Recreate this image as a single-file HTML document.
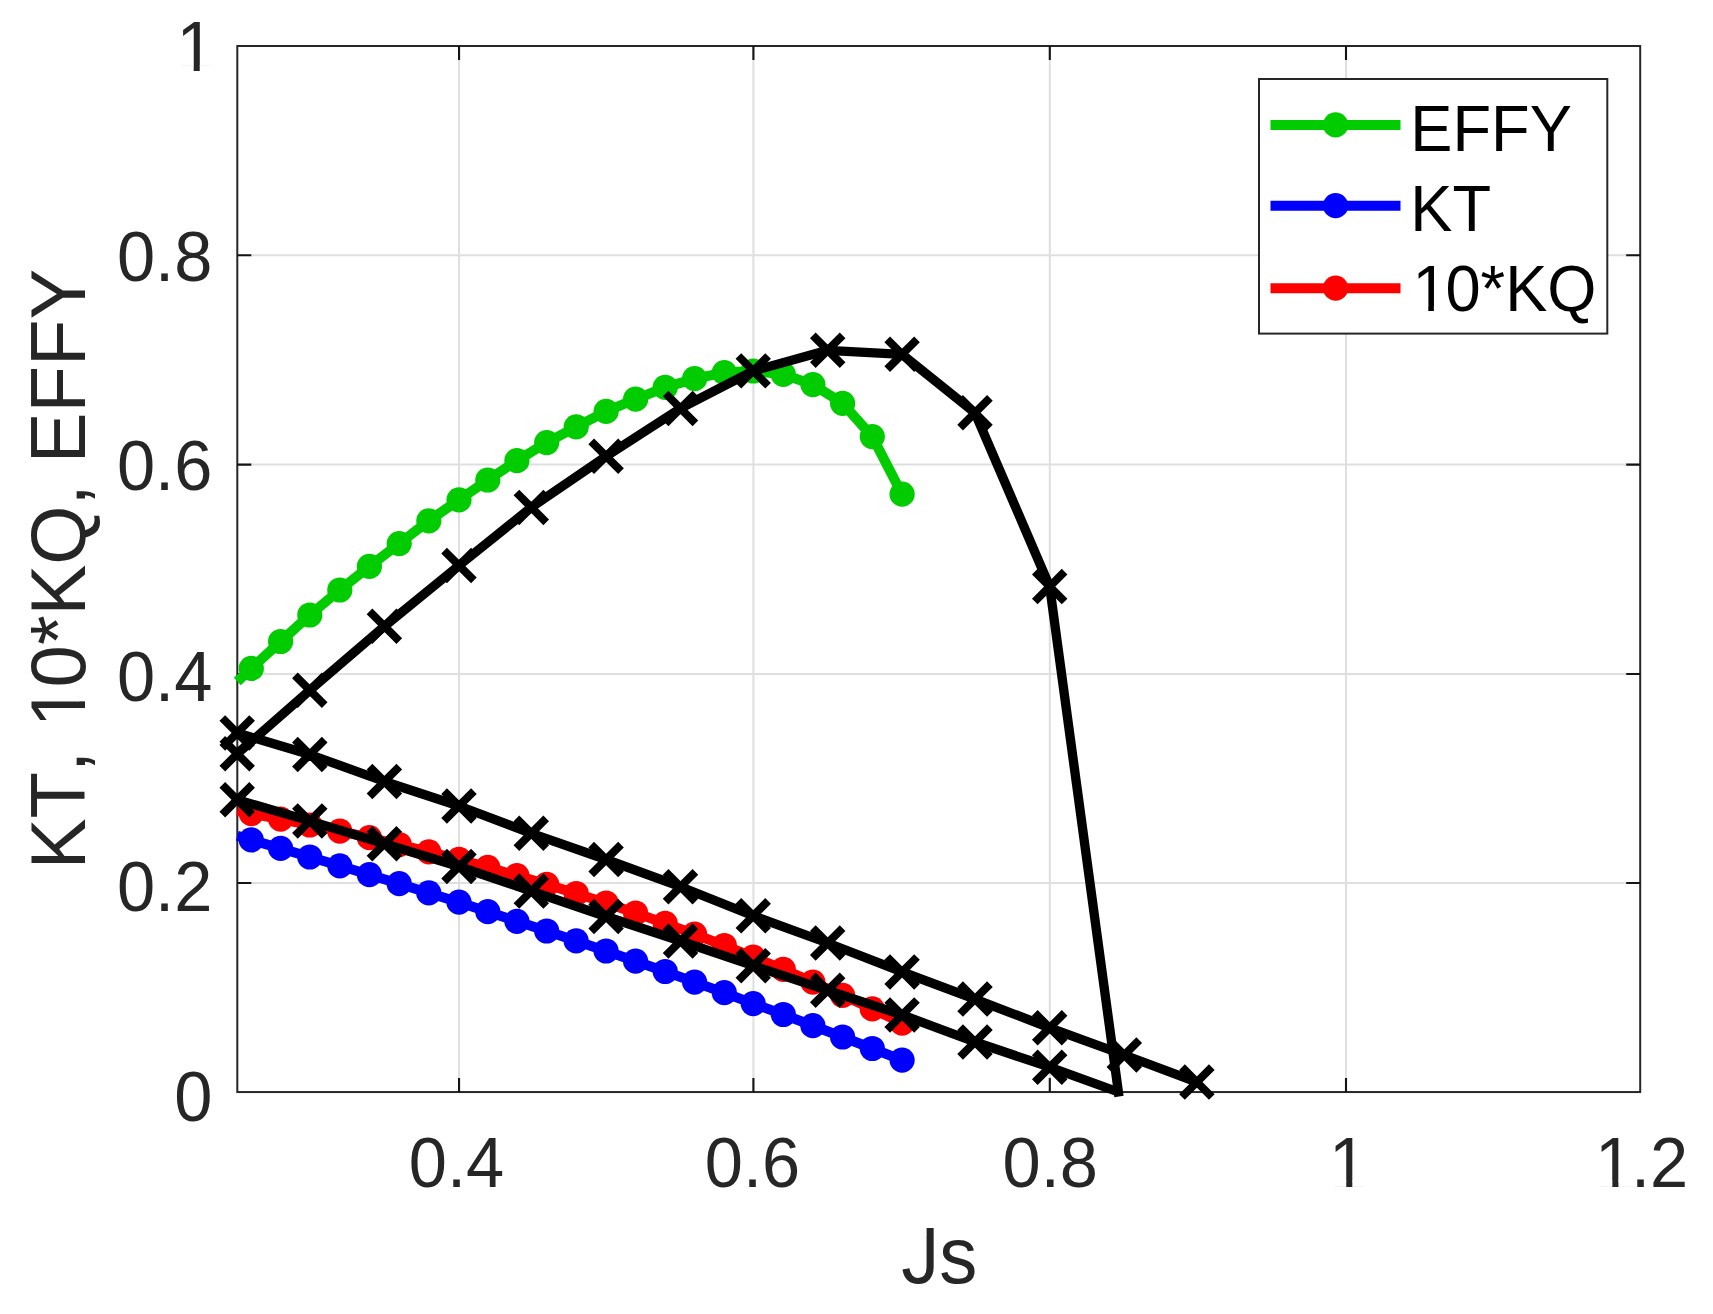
<!DOCTYPE html>
<html lang="en"><head><meta charset="utf-8"><title>KT, 10*KQ, EFFY vs Js</title>
<style>html,body{margin:0;padding:0;background:#fff;}svg{display:block;}text{font-family:"Liberation Sans",Arial,sans-serif;font-kerning:none;font-variant-ligatures:none;}</style></head><body>
<svg width="1713" height="1314" viewBox="0 0 1713 1314">
<rect x="0" y="0" width="1713" height="1314" fill="#ffffff"/>
<path d="M459.05 46.0V1092.05M753.40 46.0V1092.05M1049.80 46.0V1092.05M1346.00 46.0V1092.05M237.3 883.05H1640.2M237.3 673.95H1640.2M237.3 464.60H1640.2M237.3 255.25H1640.2" stroke="#dfdfdf" stroke-width="2" fill="none"/>
<rect x="237.3" y="46.0" width="1402.9" height="1046.05" fill="none" stroke="#262626" stroke-width="2"/>
<path d="M459.05 1092.05v-14M459.05 46.0v14M753.40 1092.05v-14M753.40 46.0v14M1049.80 1092.05v-14M1049.80 46.0v14M1346.00 1092.05v-14M1346.00 46.0v14M237.3 883.05h14M1640.2 883.05h-14M237.3 673.95h14M1640.2 673.95h-14M237.3 464.60h14M1640.2 464.60h-14M237.3 255.25h14M1640.2 255.25h-14" stroke="#141414" stroke-width="2.1" fill="none"/>
<polyline points="237.3,681.5 251.3,668.4 280.6,641.5 309.8,615.0 339.8,590.0 369.4,566.4 399.2,543.6 428.8,520.8 459.0,499.8 487.8,480.0 516.9,460.7 546.7,442.6 576.2,426.8 606.1,411.4 635.6,399.2 665.2,387.4 694.6,378.7 724.3,372.6 753.2,371.0 783.3,374.4 812.9,384.6 842.6,403.3 872.3,436.6 902.1,494.2" fill="none" stroke="#00cc00" stroke-width="10.0" stroke-linejoin="round"/>
<g fill="#00cc00"><circle cx="251.3" cy="668.4" r="12.6"/><circle cx="280.6" cy="641.5" r="12.6"/><circle cx="309.8" cy="615.0" r="12.6"/><circle cx="339.8" cy="590.0" r="12.6"/><circle cx="369.4" cy="566.4" r="12.6"/><circle cx="399.2" cy="543.6" r="12.6"/><circle cx="428.8" cy="520.8" r="12.6"/><circle cx="459.0" cy="499.8" r="12.6"/><circle cx="487.8" cy="480.0" r="12.6"/><circle cx="516.9" cy="460.7" r="12.6"/><circle cx="546.7" cy="442.6" r="12.6"/><circle cx="576.2" cy="426.8" r="12.6"/><circle cx="606.1" cy="411.4" r="12.6"/><circle cx="635.6" cy="399.2" r="12.6"/><circle cx="665.2" cy="387.4" r="12.6"/><circle cx="694.6" cy="378.7" r="12.6"/><circle cx="724.3" cy="372.6" r="12.6"/><circle cx="753.2" cy="371.0" r="12.6"/><circle cx="783.3" cy="374.4" r="12.6"/><circle cx="812.9" cy="384.6" r="12.6"/><circle cx="842.6" cy="403.3" r="12.6"/><circle cx="872.3" cy="436.6" r="12.6"/><circle cx="902.1" cy="494.2" r="12.6"/></g>
<polyline points="237.3,835.7 251.3,839.9 280.6,848.4 309.8,857.0 339.8,865.8 369.4,874.7 399.2,883.7 428.8,892.9 459.0,902.2 487.8,911.7 516.9,921.3 546.7,931.0 576.2,940.9 606.1,951.0 635.6,961.2 665.2,971.5 694.6,982.1 724.3,992.7 753.2,1003.6 783.3,1014.5 812.9,1025.7 842.6,1037.0 872.3,1048.5 902.1,1060.1" fill="none" stroke="#0000ff" stroke-width="10.0" stroke-linejoin="round"/>
<g fill="#0000ff"><circle cx="251.3" cy="839.9" r="12.6"/><circle cx="280.6" cy="848.4" r="12.6"/><circle cx="309.8" cy="857.0" r="12.6"/><circle cx="339.8" cy="865.8" r="12.6"/><circle cx="369.4" cy="874.7" r="12.6"/><circle cx="399.2" cy="883.7" r="12.6"/><circle cx="428.8" cy="892.9" r="12.6"/><circle cx="459.0" cy="902.2" r="12.6"/><circle cx="487.8" cy="911.7" r="12.6"/><circle cx="516.9" cy="921.3" r="12.6"/><circle cx="546.7" cy="931.0" r="12.6"/><circle cx="576.2" cy="940.9" r="12.6"/><circle cx="606.1" cy="951.0" r="12.6"/><circle cx="635.6" cy="961.2" r="12.6"/><circle cx="665.2" cy="971.5" r="12.6"/><circle cx="694.6" cy="982.1" r="12.6"/><circle cx="724.3" cy="992.7" r="12.6"/><circle cx="753.2" cy="1003.6" r="12.6"/><circle cx="783.3" cy="1014.5" r="12.6"/><circle cx="812.9" cy="1025.7" r="12.6"/><circle cx="842.6" cy="1037.0" r="12.6"/><circle cx="872.3" cy="1048.5" r="12.6"/><circle cx="902.1" cy="1060.1" r="12.6"/></g>
<polyline points="237.3,810.9 251.3,813.6 280.6,819.1 309.8,825.0 339.8,831.2 369.4,837.7 399.2,844.5 428.8,851.8 459.0,859.3 487.8,867.3 516.9,875.6 546.7,884.4 576.2,893.5 606.1,903.0 635.6,913.0 665.2,923.4 694.6,934.2 724.3,945.5 753.2,957.2 783.3,969.4 812.9,982.1 842.6,995.3 872.3,1008.9 902.1,1023.1" fill="none" stroke="#ff0000" stroke-width="10.0" stroke-linejoin="round"/>
<g fill="#ff0000"><circle cx="251.3" cy="813.6" r="12.6"/><circle cx="280.6" cy="819.1" r="12.6"/><circle cx="309.8" cy="825.0" r="12.6"/><circle cx="339.8" cy="831.2" r="12.6"/><circle cx="369.4" cy="837.7" r="12.6"/><circle cx="399.2" cy="844.5" r="12.6"/><circle cx="428.8" cy="851.8" r="12.6"/><circle cx="459.0" cy="859.3" r="12.6"/><circle cx="487.8" cy="867.3" r="12.6"/><circle cx="516.9" cy="875.6" r="12.6"/><circle cx="546.7" cy="884.4" r="12.6"/><circle cx="576.2" cy="893.5" r="12.6"/><circle cx="606.1" cy="903.0" r="12.6"/><circle cx="635.6" cy="913.0" r="12.6"/><circle cx="665.2" cy="923.4" r="12.6"/><circle cx="694.6" cy="934.2" r="12.6"/><circle cx="724.3" cy="945.5" r="12.6"/><circle cx="753.2" cy="957.2" r="12.6"/><circle cx="783.3" cy="969.4" r="12.6"/><circle cx="812.9" cy="982.1" r="12.6"/><circle cx="842.6" cy="995.3" r="12.6"/><circle cx="872.3" cy="1008.9" r="12.6"/><circle cx="902.1" cy="1023.1" r="12.6"/></g>
<polyline points="237.2,732.9 309.8,754.5 384.4,781.5 459.0,806.0 531.3,833.3 606.1,859.5 680.5,886.7 753.2,915.8 827.7,943.0 902.1,971.9 975.0,999.1 1049.7,1027.8 1124.3,1055.0 1196.9,1082.1" fill="none" stroke="#000" stroke-width="9.3" stroke-linejoin="round"/>
<path d="M222.3 718.0L252.1 747.8M222.3 747.8L252.1 718.0M294.9 739.6L324.7 769.4M294.9 769.4L324.7 739.6M369.5 766.6L399.3 796.4M369.5 796.4L399.3 766.6M444.1 791.1L473.9 820.9M444.1 820.9L473.9 791.1M516.4 818.4L546.2 848.2M516.4 848.2L546.2 818.4M591.2 844.6L621.0 874.4M591.2 874.4L621.0 844.6M665.6 871.8L695.4 901.6M665.6 901.6L695.4 871.8M738.4 900.9L768.1 930.7M738.4 930.7L768.1 900.9M812.8 928.1L842.6 957.9M812.8 957.9L842.6 928.1M887.2 957.0L917.0 986.8M887.2 986.8L917.0 957.0M960.1 984.2L989.9 1014.0M960.1 1014.0L989.9 984.2M1034.8 1012.9L1064.6 1042.7M1034.8 1042.7L1064.6 1012.9M1109.4 1040.1L1139.2 1069.9M1109.4 1069.9L1139.2 1040.1M1182.0 1067.2L1211.8 1097.0M1182.0 1097.0L1211.8 1067.2" fill="none" stroke="#000" stroke-width="8.0"/>
<polyline points="237.2,799.8 309.8,820.9 384.4,843.7 459.0,866.5 531.3,891.1 606.1,916.5 680.5,941.0 753.2,965.7 827.7,990.3 902.1,1014.9 975.0,1042.0 1049.7,1067.2 1118.4,1092.0" fill="none" stroke="#000" stroke-width="9.3" stroke-linejoin="round"/>
<path d="M222.3 784.9L252.1 814.7M222.3 814.7L252.1 784.9M294.9 806.0L324.7 835.8M294.9 835.8L324.7 806.0M369.5 828.8L399.3 858.6M369.5 858.6L399.3 828.8M444.1 851.6L473.9 881.4M444.1 881.4L473.9 851.6M516.4 876.2L546.2 906.0M516.4 906.0L546.2 876.2M591.2 901.6L621.0 931.4M591.2 931.4L621.0 901.6M665.6 926.1L695.4 955.9M665.6 955.9L695.4 926.1M738.4 950.8L768.1 980.6M738.4 980.6L768.1 950.8M812.8 975.4L842.6 1005.2M812.8 1005.2L842.6 975.4M887.2 1000.0L917.0 1029.8M887.2 1029.8L917.0 1000.0M960.1 1027.1L989.9 1056.9M960.1 1056.9L989.9 1027.1M1034.8 1052.3L1064.6 1082.1M1034.8 1082.1L1064.6 1052.3" fill="none" stroke="#000" stroke-width="8.0"/>
<polyline points="237.2,753.8 309.8,690.2 384.4,626.3 459.0,565.5 531.3,507.4 606.1,456.3 680.5,408.4 753.2,370.9 827.7,350.3 902.1,354.3 975.0,412.8 1049.7,586.6 1119.0,1096.5" fill="none" stroke="#000" stroke-width="9.3" stroke-linejoin="round"/>
<path d="M222.3 738.9L252.1 768.7M222.3 768.7L252.1 738.9M294.9 675.3L324.7 705.1M294.9 705.1L324.7 675.3M369.5 611.4L399.3 641.2M369.5 641.2L399.3 611.4M444.1 550.6L473.9 580.4M444.1 580.4L473.9 550.6M516.4 492.5L546.2 522.3M516.4 522.3L546.2 492.5M591.2 441.4L621.0 471.2M591.2 471.2L621.0 441.4M665.6 393.5L695.4 423.3M665.6 423.3L695.4 393.5M738.4 356.0L768.1 385.8M738.4 385.8L768.1 356.0M812.8 335.4L842.6 365.2M812.8 365.2L842.6 335.4M887.2 339.4L917.0 369.2M887.2 369.2L917.0 339.4M960.1 397.9L989.9 427.7M960.1 427.7L989.9 397.9M1034.8 571.7L1064.6 601.5M1034.8 601.5L1064.6 571.7" fill="none" stroke="#000" stroke-width="8.0"/>
<g transform="translate(456.5 1186.6) scale(1 1.03)"><text font-size="68.6" fill="#262626" text-anchor="middle">0.4</text></g>
<g transform="translate(752.4 1186.6) scale(1 1.03)"><text font-size="68.6" fill="#262626" text-anchor="middle">0.6</text></g>
<g transform="translate(1050.2 1186.6) scale(1 1.03)"><text font-size="68.6" fill="#262626" text-anchor="middle">0.8</text></g>
<g transform="translate(1345.8 1186.6) scale(1 1.03)"><text font-size="68.6" fill="#262626" x="-16.80">1</text><rect x="-12.28" y="-5.86" width="12.73" height="6.20" fill="#fff"/><rect x="6.51" y="-5.86" width="12.19" height="6.20" fill="#fff"/></g>
<g transform="translate(1640.5 1186.6) scale(1 1.03)"><text font-size="68.6" fill="#262626" x="-45.40 -9.53 9.53">1.2</text><rect x="-40.88" y="-5.86" width="12.73" height="6.20" fill="#fff"/><rect x="-22.09" y="-5.86" width="12.19" height="6.20" fill="#fff"/></g>
<g transform="translate(212.3 1120.8) scale(1 1.03)"><text font-size="68.6" fill="#262626" text-anchor="end">0</text></g>
<g transform="translate(212.3 910.6) scale(1 1.03)"><text font-size="68.6" fill="#262626" text-anchor="end">0.2</text></g>
<g transform="translate(212.3 701.4) scale(1 1.03)"><text font-size="68.6" fill="#262626" text-anchor="end">0.4</text></g>
<g transform="translate(212.3 490.3) scale(1 1.03)"><text font-size="68.6" fill="#262626" text-anchor="end">0.6</text></g>
<g transform="translate(212.3 280.8) scale(1 1.03)"><text font-size="68.6" fill="#262626" text-anchor="end">0.8</text></g>
<g transform="translate(212.3 71.2) scale(1 1.03)"><text font-size="68.6" fill="#262626" x="-35.87">1</text><rect x="-31.35" y="-5.86" width="12.73" height="6.20" fill="#fff"/><rect x="-12.56" y="-5.86" width="12.19" height="6.20" fill="#fff"/></g>
<g transform="translate(939.3 1283.0) scale(1 1.045)"><text font-size="76.1" fill="#262626" x="-38.05 0.00">Js</text><rect x="-23.37" y="-52.95" width="10.66" height="6.76" fill="#fff"/></g>
<g transform="translate(85.0 569.0) rotate(-90) scale(1 1.03)"><text font-size="76.1" fill="#262626" x="-300.26 -249.50 -203.01 -181.87 -158.20 -118.40 -76.08 -46.47 4.29 63.48 84.63 105.77 156.53 203.01 249.50">KT, 10*KQ, EFFY</text><rect x="-153.18" y="-6.50" width="14.12" height="6.87" fill="#fff"/><rect x="-132.34" y="-6.50" width="13.53" height="6.87" fill="#fff"/></g>
<rect x="1259" y="79" width="348.3" height="254.6" fill="#fff" stroke="#262626" stroke-width="2"/>
<line x1="1270.5" y1="124.9" x2="1400.5" y2="124.9" stroke="#00cc00" stroke-width="10.0"/>
<circle cx="1335.6" cy="124.9" r="12.6" fill="#00cc00"/>
<g transform="translate(1410.3 150.5) scale(1 1.03)"><text font-size="63.2" fill="#000" text-anchor="start">EFFY</text></g>
<line x1="1270.5" y1="205.7" x2="1400.5" y2="205.7" stroke="#0000ff" stroke-width="10.0"/>
<circle cx="1335.6" cy="205.7" r="12.6" fill="#0000ff"/>
<g transform="translate(1410.3 230.8) scale(1 1.03)"><text font-size="63.2" fill="#000" text-anchor="start">KT</text></g>
<line x1="1270.5" y1="288.2" x2="1400.5" y2="288.2" stroke="#ff0000" stroke-width="10.0"/>
<circle cx="1335.6" cy="288.2" r="12.6" fill="#ff0000"/>
<g transform="translate(1410.3 311.3) scale(1 1.03)"><text font-size="63.2" fill="#000" x="2.10 35.15 70.30 94.89 137.05">10*KQ</text><rect x="6.26" y="-5.40" width="11.73" height="5.71" fill="#fff"/><rect x="23.58" y="-5.40" width="11.23" height="5.71" fill="#fff"/></g>
</svg></body></html>
